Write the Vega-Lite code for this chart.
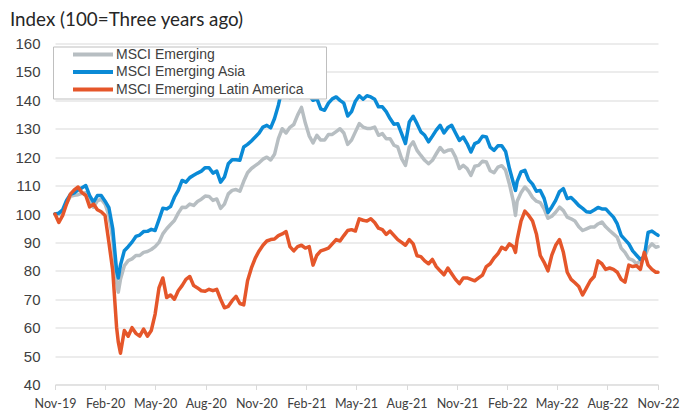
{
  "$schema": "https://vega.github.io/schema/vega-lite/v6.json",
  "width": 603,
  "height": 341,
  "autosize": {"type": "none"},
  "padding": {"left": 55, "top": 43.5, "right": 30, "bottom": 30.5},
  "background": "white",
  "title": {"text": "Index (100=Three years ago)", "anchor": "start", "frame": "group", "dx": -45, "offset": 6.5, "font": "Lato", "fontSize": 18.8, "fontWeight": "normal", "color": "#262626"},
  "data": {"values": [
    {"d":"2019-11-29","g":100,"a":100,"l":100},
    {"d":"2019-12-06","g":99.8,"a":100.3,"l":97},
    {"d":"2019-12-13","g":101,"a":101.5,"l":99.5},
    {"d":"2019-12-20","g":103.8,"a":104.8,"l":103.5},
    {"d":"2019-12-27","g":106.2,"a":106.9,"l":107},
    {"d":"2020-01-03","g":106.6,"a":107.4,"l":108.5},
    {"d":"2020-01-10","g":106.8,"a":108.5,"l":109.5},
    {"d":"2020-01-17","g":107.3,"a":109.2,"l":107.5},
    {"d":"2020-01-24","g":107.5,"a":110,"l":106.5},
    {"d":"2020-01-31","g":104.5,"a":106.5,"l":102.5},
    {"d":"2020-02-07","g":102.4,"a":104.2,"l":103.5},
    {"d":"2020-02-14","g":104.6,"a":106.5,"l":101.5},
    {"d":"2020-02-21","g":105.2,"a":106.5,"l":100.8},
    {"d":"2020-02-28","g":103.5,"a":104.5,"l":99.5},
    {"d":"2020-03-06","g":99.5,"a":102.2,"l":90},
    {"d":"2020-03-13","g":91,"a":94.8,"l":80},
    {"d":"2020-03-20","g":76,"a":80,"l":60},
    {"d":"2020-03-23","g":72.5,"a":77.5,"l":55},
    {"d":"2020-03-27","g":77,"a":82,"l":51},
    {"d":"2020-04-03","g":81.8,"a":87.1,"l":59},
    {"d":"2020-04-10","g":83.6,"a":88.5,"l":57},
    {"d":"2020-04-17","g":84.2,"a":90.1,"l":60},
    {"d":"2020-04-24","g":85.4,"a":92.1,"l":58},
    {"d":"2020-05-01","g":85.4,"a":92.6,"l":57},
    {"d":"2020-05-08","g":86.5,"a":93.8,"l":59.5},
    {"d":"2020-05-15","g":86.8,"a":93.9,"l":57},
    {"d":"2020-05-22","g":87.5,"a":94.6,"l":59},
    {"d":"2020-05-29","g":88.5,"a":94.2,"l":64.8},
    {"d":"2020-06-05","g":90,"a":98,"l":74},
    {"d":"2020-06-12","g":93,"a":102,"l":77.5},
    {"d":"2020-06-19","g":94.8,"a":101.8,"l":70.6},
    {"d":"2020-06-26","g":96.3,"a":102.6,"l":71.5},
    {"d":"2020-07-03","g":97.7,"a":105.9,"l":70},
    {"d":"2020-07-10","g":100.3,"a":108.3,"l":73},
    {"d":"2020-07-17","g":102.4,"a":111.8,"l":74.8},
    {"d":"2020-07-24","g":102.3,"a":111.2,"l":77},
    {"d":"2020-07-31","g":103.5,"a":112.8,"l":78},
    {"d":"2020-08-07","g":103,"a":113.6,"l":74.8},
    {"d":"2020-08-14","g":104.4,"a":114.4,"l":74},
    {"d":"2020-08-21","g":105.2,"a":115.1,"l":73},
    {"d":"2020-08-28","g":106.3,"a":116.3,"l":72.8},
    {"d":"2020-09-04","g":106.2,"a":116.3,"l":73.5},
    {"d":"2020-09-11","g":104.8,"a":114.4,"l":73},
    {"d":"2020-09-18","g":105.3,"a":115.1,"l":73.5},
    {"d":"2020-09-25","g":102,"a":111.2,"l":70},
    {"d":"2020-10-02","g":103.5,"a":113,"l":67},
    {"d":"2020-10-09","g":107.1,"a":117.7,"l":67.5},
    {"d":"2020-10-16","g":108.3,"a":119.1,"l":69.5},
    {"d":"2020-10-23","g":108.6,"a":119.1,"l":71},
    {"d":"2020-10-30","g":108,"a":118.9,"l":68.5},
    {"d":"2020-11-06","g":111.5,"a":123.6,"l":68},
    {"d":"2020-11-13","g":114.5,"a":124.5,"l":76.5},
    {"d":"2020-11-20","g":116,"a":125.7,"l":81},
    {"d":"2020-11-27","g":117,"a":127.1,"l":84.5},
    {"d":"2020-12-04","g":118,"a":128.5,"l":87},
    {"d":"2020-12-11","g":119.3,"a":130.6,"l":89},
    {"d":"2020-12-18","g":120,"a":131.2,"l":90.5},
    {"d":"2020-12-25","g":119,"a":130.3,"l":91},
    {"d":"2021-01-01","g":121,"a":133.6,"l":91.2},
    {"d":"2021-01-08","g":126.5,"a":138.3,"l":92.4},
    {"d":"2021-01-15","g":130,"a":144.2,"l":93},
    {"d":"2021-01-22","g":128.5,"a":145.4,"l":93.8},
    {"d":"2021-01-29","g":130.5,"a":141,"l":88.5},
    {"d":"2021-02-05","g":131.5,"a":142.4,"l":87},
    {"d":"2021-02-12","g":134.8,"a":143,"l":88.5},
    {"d":"2021-02-19","g":137.5,"a":143,"l":89},
    {"d":"2021-02-26","g":132,"a":143.5,"l":88},
    {"d":"2021-03-05","g":127.5,"a":141.8,"l":88.5},
    {"d":"2021-03-12","g":125,"a":140,"l":82},
    {"d":"2021-03-19","g":127.7,"a":140.6,"l":85.5},
    {"d":"2021-03-26","g":126,"a":137,"l":87},
    {"d":"2021-04-02","g":126,"a":136.5,"l":87.5},
    {"d":"2021-04-09","g":128,"a":139,"l":88},
    {"d":"2021-04-16","g":128,"a":140.5,"l":89.5},
    {"d":"2021-04-23","g":129,"a":141.2,"l":91},
    {"d":"2021-04-30","g":130,"a":140,"l":90.5},
    {"d":"2021-05-07","g":128.5,"a":139,"l":92.4},
    {"d":"2021-05-14","g":124.5,"a":134.5,"l":94.2},
    {"d":"2021-05-21","g":126,"a":136,"l":94.5},
    {"d":"2021-05-28","g":128.9,"a":139.7,"l":94},
    {"d":"2021-06-04","g":131.8,"a":141.6,"l":98.3},
    {"d":"2021-06-11","g":130.6,"a":140.4,"l":97.8},
    {"d":"2021-06-18","g":130.1,"a":141.6,"l":97.5},
    {"d":"2021-06-25","g":130.1,"a":141.2,"l":98.3},
    {"d":"2021-07-02","g":130.6,"a":140.4,"l":97},
    {"d":"2021-07-09","g":127.7,"a":137.7,"l":95},
    {"d":"2021-07-16","g":128.3,"a":137.7,"l":94.5},
    {"d":"2021-07-23","g":126.5,"a":136,"l":92.8},
    {"d":"2021-07-30","g":126.5,"a":133.6,"l":94},
    {"d":"2021-08-06","g":124.2,"a":131.6,"l":92.5},
    {"d":"2021-08-13","g":123.6,"a":131.8,"l":91},
    {"d":"2021-08-20","g":119.5,"a":128.3,"l":90},
    {"d":"2021-08-27","g":117.1,"a":124.8,"l":89},
    {"d":"2021-09-03","g":123.6,"a":132.4,"l":91},
    {"d":"2021-09-10","g":125.4,"a":134.4,"l":89.5},
    {"d":"2021-09-17","g":122.4,"a":131.8,"l":85.3},
    {"d":"2021-09-24","g":120.6,"a":128.9,"l":85},
    {"d":"2021-10-01","g":118.9,"a":127.7,"l":83.5},
    {"d":"2021-10-08","g":117.7,"a":125.4,"l":82.5},
    {"d":"2021-10-15","g":118.9,"a":127.4,"l":84},
    {"d":"2021-10-22","g":121.2,"a":129.5,"l":81.5},
    {"d":"2021-10-29","g":123.4,"a":131.2,"l":80},
    {"d":"2021-11-05","g":121.8,"a":128.5,"l":78.6},
    {"d":"2021-11-12","g":122.4,"a":130.4,"l":81},
    {"d":"2021-11-19","g":122.6,"a":131.2,"l":79},
    {"d":"2021-11-26","g":120,"a":128.5,"l":77},
    {"d":"2021-12-03","g":116,"a":125.9,"l":75.5},
    {"d":"2021-12-10","g":117.1,"a":127.1,"l":77.5},
    {"d":"2021-12-17","g":116,"a":124.8,"l":77.5},
    {"d":"2021-12-24","g":113.6,"a":121.8,"l":77},
    {"d":"2021-12-31","g":116.8,"a":124.8,"l":76.5},
    {"d":"2022-01-07","g":117.1,"a":125.4,"l":77.5},
    {"d":"2022-01-14","g":118.6,"a":127.4,"l":78.5},
    {"d":"2022-01-21","g":118.3,"a":127.1,"l":81.5},
    {"d":"2022-01-28","g":115.2,"a":123.5,"l":82.5},
    {"d":"2022-02-04","g":114.5,"a":122.4,"l":84.5},
    {"d":"2022-02-11","g":116.5,"a":124,"l":86},
    {"d":"2022-02-18","g":117,"a":124,"l":88.3},
    {"d":"2022-02-25","g":115.4,"a":122,"l":87.5},
    {"d":"2022-03-04","g":110.5,"a":116,"l":89.5},
    {"d":"2022-03-11","g":104.5,"a":111,"l":88.5},
    {"d":"2022-03-15","g":99.5,"a":108.3,"l":86.5},
    {"d":"2022-03-18","g":104.5,"a":111.5,"l":91},
    {"d":"2022-03-25","g":107.5,"a":114.8,"l":97.5},
    {"d":"2022-04-01","g":109.5,"a":115.4,"l":101},
    {"d":"2022-04-08","g":108,"a":112,"l":99.5},
    {"d":"2022-04-15","g":105.8,"a":110.5,"l":97.5},
    {"d":"2022-04-22","g":104.5,"a":108,"l":93},
    {"d":"2022-04-29","g":104,"a":108.3,"l":85.4},
    {"d":"2022-05-06","g":101.8,"a":105.5,"l":83},
    {"d":"2022-05-13","g":98.5,"a":100.5,"l":80},
    {"d":"2022-05-20","g":99.2,"a":102.5,"l":85.5},
    {"d":"2022-05-27","g":100.6,"a":104.8,"l":89},
    {"d":"2022-06-03","g":102.4,"a":107.9,"l":91},
    {"d":"2022-06-10","g":101.2,"a":108.9,"l":86.5},
    {"d":"2022-06-17","g":98.9,"a":105.4,"l":79.5},
    {"d":"2022-06-24","g":98.3,"a":105.8,"l":77},
    {"d":"2022-07-01","g":97.5,"a":104.5,"l":75.8},
    {"d":"2022-07-08","g":95.5,"a":103,"l":74.5},
    {"d":"2022-07-15","g":94.2,"a":102,"l":71.5},
    {"d":"2022-07-22","g":94.8,"a":100.8,"l":74},
    {"d":"2022-07-29","g":95.4,"a":100.6,"l":76.5},
    {"d":"2022-08-05","g":95.4,"a":101.4,"l":78},
    {"d":"2022-08-12","g":96.5,"a":102.3,"l":83.5},
    {"d":"2022-08-19","g":97.2,"a":101.8,"l":82.5},
    {"d":"2022-08-26","g":95.5,"a":101.8,"l":80.5},
    {"d":"2022-09-02","g":94.2,"a":100.3,"l":81},
    {"d":"2022-09-09","g":93,"a":98.9,"l":80.5},
    {"d":"2022-09-16","g":91.8,"a":96.5,"l":79.5},
    {"d":"2022-09-23","g":88,"a":92.5,"l":77},
    {"d":"2022-09-30","g":86.5,"a":91,"l":76},
    {"d":"2022-10-07","g":84.3,"a":89.5,"l":82},
    {"d":"2022-10-14","g":83.8,"a":87,"l":81.5},
    {"d":"2022-10-21","g":82.5,"a":85.5,"l":81.8},
    {"d":"2022-10-28","g":83.5,"a":84,"l":80.5},
    {"d":"2022-11-04","g":84.5,"a":85,"l":86.5},
    {"d":"2022-11-11","g":88,"a":93.5,"l":82},
    {"d":"2022-11-18","g":89.5,"a":94,"l":80.5},
    {"d":"2022-11-25","g":88.3,"a":93,"l":79.5},
    {"d":"2022-11-29","g":88.5,"a":92.5,"l":79.5}
  ]},
  "transform": [{"fold": ["g", "a", "l"], "as": ["series", "value"]}],
  "mark": {"type": "line", "strokeWidth": 3.5, "strokeJoin": "round", "strokeCap": "round"},
  "encoding": {
    "x": {
      "field": "d", "type": "temporal",
      "scale": {"type": "utc", "domain": [{"year": 2019, "month": 11, "date": 29, "utc": true}, {"year": 2022, "month": 11, "date": 29, "utc": true}]},
      "axis": {
        "title": null, "format": "%b-%y", "grid": false,
        "values": [
          {"year": 2019, "month": 11, "date": 29, "utc": true},
          {"year": 2020, "month": 2, "date": 28, "utc": true},
          {"year": 2020, "month": 5, "date": 29, "utc": true},
          {"year": 2020, "month": 8, "date": 29, "utc": true},
          {"year": 2020, "month": 11, "date": 29, "utc": true},
          {"year": 2021, "month": 2, "date": 28, "utc": true},
          {"year": 2021, "month": 5, "date": 29, "utc": true},
          {"year": 2021, "month": 8, "date": 29, "utc": true},
          {"year": 2021, "month": 11, "date": 29, "utc": true},
          {"year": 2022, "month": 2, "date": 28, "utc": true},
          {"year": 2022, "month": 5, "date": 29, "utc": true},
          {"year": 2022, "month": 8, "date": 29, "utc": true},
          {"year": 2022, "month": 11, "date": 29, "utc": true}
        ],
        "domainColor": "#D9D9D9", "tickColor": "#D9D9D9", "tickSize": 5,
        "labelFont": "Lato", "labelFontSize": 12.5, "labelColor": "#404040",
        "labelPadding": 8, "labelOverlap": false, "labelFlush": false
      }
    },
    "y": {
      "field": "value", "type": "quantitative",
      "scale": {"domain": [40, 160], "nice": false, "zero": false},
      "axis": {
        "title": null, "values": [40, 50, 60, 70, 80, 90, 100, 110, 120, 130, 140, 150, 160],
        "domain": false, "ticks": false, "grid": true, "gridColor": "#D9D9D9", "gridWidth": 1,
        "labelFont": "Liberation Sans", "labelFontSize": 15, "labelColor": "#404040", "labelPadding": 15
      }
    },
    "color": {
      "field": "series", "type": "nominal",
      "scale": {"domain": ["g", "a", "l"], "range": ["#B7BEC2", "#0A8AD6", "#E5562A"]},
      "legend": {
        "title": " ", "titleOrient": "right", "titlePadding": 21, "titleFontSize": 1,
        "orient": "none", "legendX": -2, "legendY": 3, "direction": "vertical",
        "labelExpr": "datum.label == 'g' ? 'MSCI Emerging' : datum.label == 'a' ? 'MSCI Emerging Asia' : 'MSCI Emerging Latin America'",
        "symbolType": "M-4,0H4", "symbolSize": 100, "symbolStrokeWidth": 4,
        "symbolOffset": 32, "labelOffset": 16, "labelLimit": 400,
        "labelFont": "Liberation Sans", "labelFontSize": 14, "labelColor": "#404040",
        "padding": 1, "rowPadding": 1.5, "fillColor": "white", "strokeColor": "#BFBFBF"
      }
    }
  },
  "config": {"view": {"stroke": null}}
}
